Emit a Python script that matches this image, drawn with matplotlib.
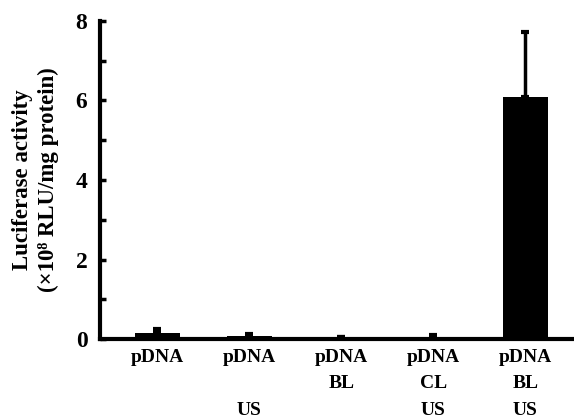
import matplotlib
matplotlib.use('Agg')
import matplotlib.pyplot as plt

groups = ['pDNA', 'pDNA\n\nUS', 'pDNA\nBL\n', 'pDNA\nCL\nUS', 'pDNA\nBL\nUS']
activity = [0.15, 0.07, 0.04, 0.03, 6.08]
errors = [0.09, 0.06, 0.02, 0.06, 1.65]

plt.rcParams['font.family'] = ['Liberation Serif', 'DejaVu Serif']
plt.rcParams['font.weight'] = 'bold'

fig = plt.figure(figsize=(5.74, 4.19), dpi=100)
ax = fig.add_axes([100 / 574, 1 - 339 / 419, 1 - 100 / 574, 318 / 419])

x = list(range(len(groups)))
ax.bar(x, activity, width=0.49, color='black', zorder=2)
ax.errorbar(x, activity, yerr=[[0] * len(errors), errors], fmt='none',
            ecolor='black', elinewidth=2.5, capsize=3, capthick=3, zorder=3)

ax.set_xlim(-0.62, 4.53)
ax.set_ylim(0, 8)
ax.set_yticks([0, 2, 4, 6, 8])
ax.set_yticks([1, 3, 5, 7], minor=True)
ax.set_xticks(x)
ax.set_xticklabels(groups, fontsize=14, fontweight='bold', linespacing=1.75, va='top')
ax.tick_params(axis='x', length=0, pad=7)
ax.tick_params(axis='y', which='both', direction='in', length=4, width=2.5,
               labelsize=17, pad=9)
for lbl in ax.get_yticklabels():
    lbl.set_fontweight('bold')

for side in ['top', 'right']:
    ax.spines[side].set_visible(False)
for side in ['left', 'bottom']:
    ax.spines[side].set_linewidth(3)

ax.set_ylabel('Luciferase activity\n(×10⁸ RLU/mg protein)', fontsize=16.5,
              fontweight='bold', labelpad=12, linespacing=1.3)

fig.savefig('out.png', dpi=100, facecolor='white')
